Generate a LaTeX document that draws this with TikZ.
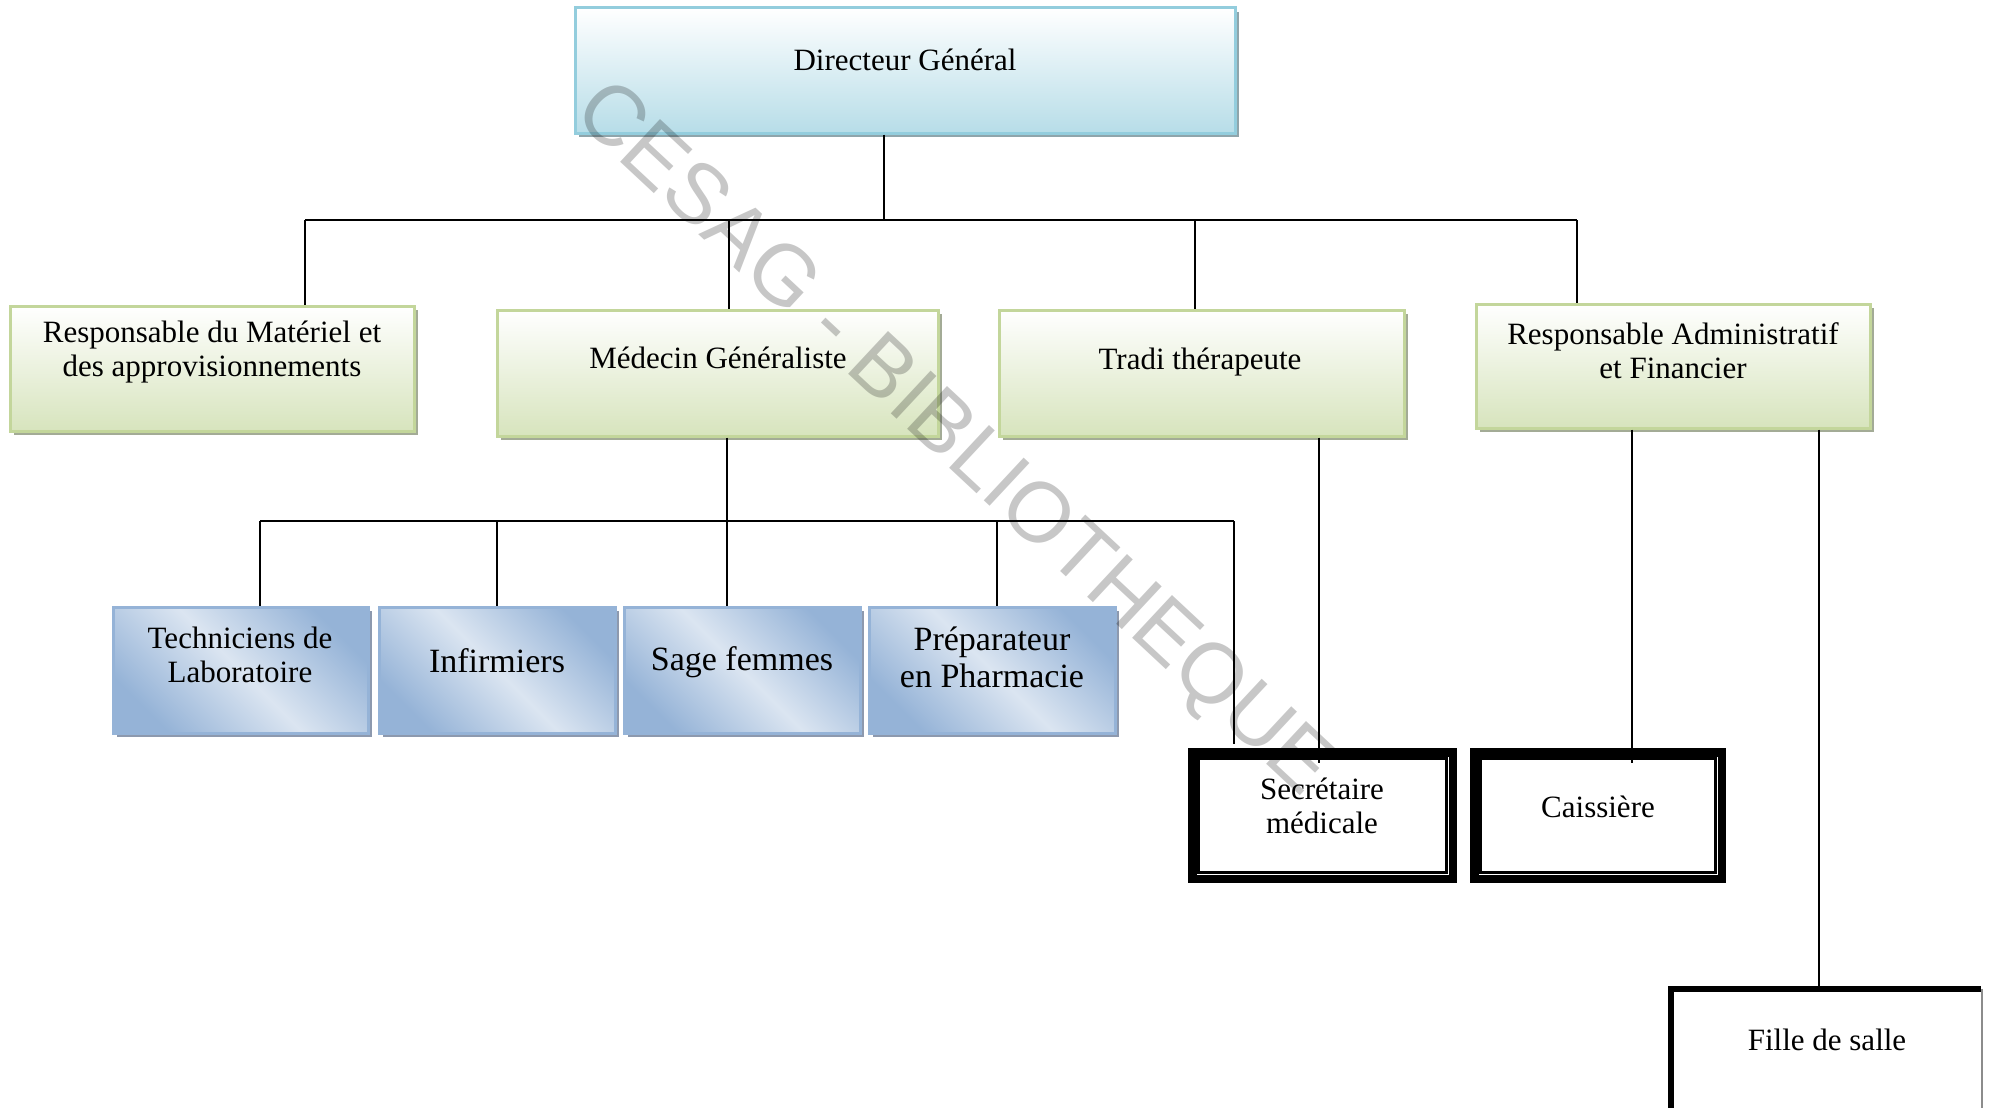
\documentclass[tikz,border=0pt]{standalone}
\usepackage{fontspec}
\setmainfont{Liberation Serif}
\newfontfamily\wmfont{Liberation Sans}
\usetikzlibrary{shadows}
\definecolor{dgB}{HTML}{93CDDD}
\definecolor{dgF}{HTML}{B7DDE8}
\definecolor{dgS}{HTML}{8FA5AB}
\definecolor{grB}{HTML}{C3D69B}
\definecolor{grF}{HTML}{D7E4BD}
\definecolor{grS}{HTML}{A3AB96}
\definecolor{blB}{HTML}{95B3D7}
\definecolor{blD}{HTML}{95B3D7}
\definecolor{blL}{HTML}{DBE5F1}
\definecolor{blS}{HTML}{8D99AE}
\begin{document}
\begin{tikzpicture}[x=1pt,y=-1pt,
  conn/.style={draw=black, line width=2pt},
  box/.style={rectangle, inner sep=0pt, line width=3pt},
  dgbox/.style={box, draw=dgB, top color=white, bottom color=dgF,
     drop shadow={shadow xshift=4pt, shadow yshift=-4pt, fill=dgS, opacity=1}},
  grbox/.style={box, draw=grB, top color=white, bottom color=grF,
     drop shadow={shadow xshift=4pt, shadow yshift=-4pt, fill=grS, opacity=1}},
  blbox/.style={box, draw=blB, left color=blD, right color=blD, middle color=blL, shading angle=135,
     drop shadow={shadow xshift=4pt, shadow yshift=-4pt, fill=blS, opacity=1}},
  dblbox/.style={rectangle, inner sep=0pt, draw=black, line width=8.5pt, fill=white,
     minimum height=126.5},
  innerline/.style={draw=black, line width=2.5pt},
  lbl/.style={align=center, inner sep=0pt, font=\fontsize{31}{34}\selectfont},
  lblb/.style={align=center, inner sep=0pt, font=\fontsize{34}{37}\selectfont},
]
\useasboundingbox[fill=white] (0,0) rectangle (1992,1108);

% top
\node[dgbox, minimum width=660, minimum height=125] (dg) at (905,70.5) {};
\node[lbl] (dgT) at (905,60) {Directeur Général};

% second row
\node[grbox, minimum width=404, minimum height=125] (rmat) at (212,368.5) {};
\node[lbl] (rmatT) at (212,352) {Responsable du Matériel et\\des approvisionnements};
\node[grbox, minimum width=441, minimum height=126] (med) at (717.5,373) {};
\node[lbl] (medT) at (718,358) {Médecin Généraliste};
\node[grbox, minimum width=405, minimum height=126] (tradi) at (1201.5,373) {};
\node[lbl] (tradiT) at (1200,362) {Tradi thérapeute};
\node[grbox, minimum width=394, minimum height=124] (radm) at (1673,366) {};
\node[lbl] (radmT) at (1673,351) {Responsable Administratif\\et Financier};

% third row (blue)
\node[blbox, minimum width=255, minimum height=126] (tech) at (240.5,670) {};
\node[lbl] (techT) at (240,655) {Techniciens de\\Laboratoire};
\node[blbox, minimum width=236, minimum height=126] (inf) at (497,670) {};
\node[lblb] (infT) at (497,661) {Infirmiers};
\node[blbox, minimum width=236, minimum height=126] (sage) at (742,670) {};
\node[lblb] (sageT) at (742,662) {Sage femmes};
\node[blbox, minimum width=246, minimum height=126] (prep) at (992,670) {};
\node[lblb] (prepT) at (992,657) {Préparateur\\en Pharmacie};

% double-border boxes
\node[dblbox, minimum width=260.5] (secr) at (1322.5,815.5) {};
\draw[innerline] ([shift={(10.5,10.5)}]secr.north west) rectangle ([shift={(-10.5,-10.5)}]secr.south east);
\node[lbl] (secrT) at (1322,806) {Secrétaire\\médicale};
\node[dblbox, minimum width=247.5] (caiss) at (1598,815.5) {};
\draw[innerline] ([shift={(10.5,10.5)}]caiss.north west) rectangle ([shift={(-10.5,-10.5)}]caiss.south east);
\node[lbl] (caissT) at (1598,807) {Caissière};

% Fille de salle
\node[rectangle, inner sep=0pt, fill=white, minimum width=311, minimum height=140] (fille) at (1826.5,1059) {};
\draw[line width=6pt] ([xshift=-1pt]fille.north east) -- (fille.north west) -- ([yshift=-5pt]fille.south west);
\draw[line width=1.5pt, black!45] (fille.north east) -- ([yshift=-5pt]fille.south east);
\node[lbl] (filleT) at (1827,1040) {Fille de salle};

% connectors level 1
\coordinate (j1) at (884,220);
\coordinate (a1) at (305,220);
\coordinate (a2) at (729,220);
\coordinate (a3) at (1195,220);
\coordinate (a4) at (1577,220);
\draw[conn] (dg.south -| j1) -- (j1);
\draw[conn] (a1) -- (a4);
\draw[conn] (a1) -- (a1 |- rmat.north);
\draw[conn] (a2) -- (a2 |- med.north);
\draw[conn] (a3) -- (a3 |- tradi.north);
\draw[conn] (a4) -- (a4 |- radm.north);

% connectors level 2
\coordinate (m1) at (260,521);
\coordinate (m2) at (497,521);
\coordinate (m3) at (727,521);
\coordinate (m4) at (997,521);
\coordinate (m5) at (1234,521);
\draw[conn] (med.south -| m3) -- (m3);
\draw[conn] (m1) -- (m5);
\draw[conn] (m1) -- (m1 |- tech.north);
\draw[conn] (m2) -- (m2 |- inf.north);
\draw[conn] (m3) -- (m3 |- sage.north);
\draw[conn] (m4) -- (m4 |- prep.north);
\draw[conn] (m5) -- ([yshift=4pt]m5 |- secr.north);

% other connectors
\coordinate (s1) at (1319,763);
\draw[conn] (tradi.south -| s1) -- (s1);
\coordinate (c1) at (1632,763);
\draw[conn] (radm.south -| c1) -- (c1);
\coordinate (f1) at (1819,989);
\draw[conn] (radm.south -| f1) -- (f1);

% watermark
\node[rotate=-43, inner sep=0pt, text=black, text opacity=0.22,
      font=\wmfont\fontsize{85}{85}\selectfont] (wm) at (952,441) {CESAG - BIBLIOTHEQUE};
\end{tikzpicture}
\end{document}
